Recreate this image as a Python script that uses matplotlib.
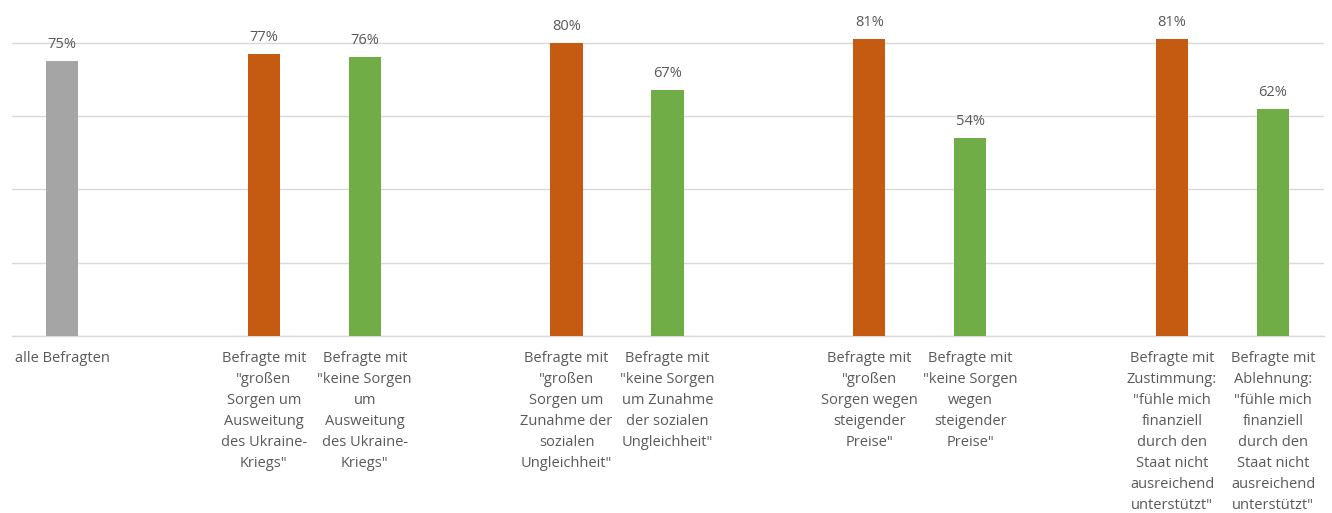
import matplotlib
matplotlib.use("Agg")
import matplotlib.pyplot as plt

# Share of respondents per group (percent)
categories = [
    "alle Befragten",
    "Befragte mit\n\"großen\nSorgen um\nAusweitung\ndes Ukraine-\nKriegs\"",
    "Befragte mit\n\"keine Sorgen\num\nAusweitung\ndes Ukraine-\nKriegs\"",
    "Befragte mit\n\"großen\nSorgen um\nZunahme der\nsozialen\nUngleichheit\"",
    "Befragte mit\n\"keine Sorgen\num Zunahme\nder sozialen\nUngleichheit\"",
    "Befragte mit\n\"großen\nSorgen wegen\nsteigender\nPreise\"",
    "Befragte mit\n\"keine Sorgen\nwegen\nsteigender\nPreise\"",
    "Befragte mit\nZustimmung:\n\"fühle mich\nfinanziell\ndurch den\nStaat nicht\nausreichend\nunterstützt\"",
    "Befragte mit\nAblehnung:\n\"fühle mich\nfinanziell\ndurch den\nStaat nicht\nausreichend\nunterstützt\"",
]
values = [75, 77, 76, 80, 67, 81, 54, 81, 62]
groups = ["total", "concern", "none", "concern", "none", "concern", "none", "concern", "none"]

# Slot index of each bar (empty slot between groups)
slots = [0, 2, 3, 5, 6, 8, 9, 11, 12]

palette = {"total": "#a5a5a5", "concern": "#c55a11", "none": "#70ad47"}
text_color = "#595959"
grid_color = "#d9d9d9"

plt.rcParams["font.family"] = ["Open Sans", "DejaVu Sans"]

fig = plt.figure(figsize=(13.32, 5.13), dpi=100)
ax = fig.add_axes([11.5 / 1332, 177 / 513, 1312 / 1332, 330 / 513])

bars = ax.bar(slots, values, width=0.32,
              color=[palette[g] for g in groups], zorder=3)

for rect, v in zip(bars, values):
    ax.annotate(f"{v}%", (rect.get_x() + rect.get_width() / 2, v),
                xytext=(0, 6.5), textcoords="offset points",
                ha="center", va="bottom", fontsize=10.5, color=text_color)

ax.set_xlim(-0.5, 12.5)
ax.set_ylim(0, 90)
ax.set_yticks([0, 20, 40, 60, 80])
ax.yaxis.grid(True, color=grid_color, linewidth=1)
ax.set_axisbelow(True)
ax.tick_params(axis="y", left=False, labelleft=False)

ax.set_xticks(slots)
ax.set_xticklabels(categories, fontsize=10.5, color=text_color,
                   linespacing=1.54, va="top", ha="center")
ax.tick_params(axis="x", length=0, pad=11)

for side in ["top", "left", "right"]:
    ax.spines[side].set_visible(False)
ax.spines["bottom"].set_color(grid_color)
ax.spines["bottom"].set_linewidth(1)

fig.savefig("out.png", dpi=100, facecolor="white")
